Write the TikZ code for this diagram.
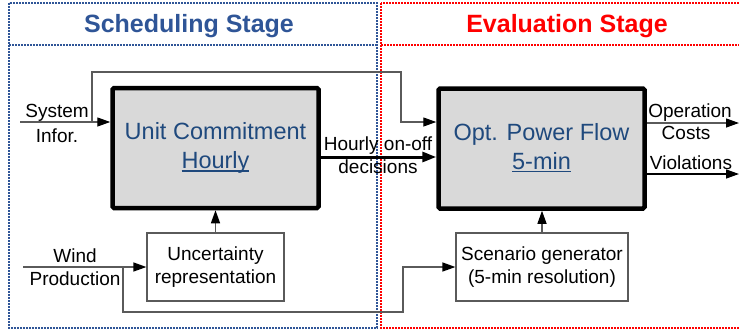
\documentclass[tikz,border=0pt]{standalone}
\usepackage{fontspec}
\setmainfont{Liberation Sans}
\usetikzlibrary{arrows.meta}

\definecolor{schedblue}{RGB}{47,85,151}
\definecolor{boxblue}{RGB}{31,73,125}
\definecolor{evalred}{RGB}{255,0,0}
\definecolor{boxfill}{RGB}{217,217,217}
\definecolor{linegray}{RGB}{90,90,90}

% underline sitting just below the baseline, independent of descenders
\newcommand\boxuline[1]{\setbox0\hbox{#1}\rlap{\rule[-3pt]{\wd0}{1.4pt}}\box0}

\tikzset{
  stagebox/.style={line width=1.5pt, dash pattern=on 1.6pt off 1.4pt},
  stagetitle/.style={font=\fontsize{25}{30}\selectfont\bfseries, anchor=base, inner sep=0pt},
  mainbox/.style={draw=black, line width=4.5pt, fill=boxfill, rounded corners=1.5pt,
    minimum width=206pt, minimum height=120pt, align=center, text=boxblue,
    font=\fontsize{23.5}{29}\selectfont},
  subbox/.style={draw=linegray, line width=1.2pt, fill=white, align=center,
    minimum height=68pt, inner sep=0pt, font=\fontsize{19}{22.5}\selectfont},
  lbl/.style={font=\fontsize{19}{23}\selectfont, anchor=base, inner sep=0pt},
  tip/.style={-{Triangle[length=13pt,width=9pt,color=black]}},
  conn/.style={draw=linegray, line width=1.3pt, tip},
  darkconn/.style={draw=black, line width=1.3pt, tip},
  thickconn/.style={draw=black, line width=3pt,
    -{Triangle[length=14pt,width=10pt,color=black]}}
}

\begin{document}
\begin{tikzpicture}[x=1pt,y=-1pt]
  \clip (0,0) rectangle (739,333);
  \fill[white] (0,0) rectangle (739,333);

  % stage frames
  \draw[stagebox, draw=schedblue] (9,3) rectangle (377,328);
  \draw[stagebox, draw=schedblue] (9,45) -- (377,45);
  \draw[stagebox, draw=evalred] (381,3) rectangle (745,328);
  \draw[stagebox, draw=evalred] (381,45) -- (745,45);
  \node[stagetitle, text=schedblue] (schedtitle) at (189,32) {Scheduling Stage};
  \node[stagetitle, text=evalred] (evaltitle) at (567,32) {Evaluation Stage};

  % main blocks
  \node[mainbox] (uc) at (215.5,148) {Unit Commitment\\\boxuline{Hourly}};
  \node[mainbox] (opf) at (541.5,148.5) {Opt. Power Flow\\\boxuline{5-min}\vphantom{y}};

  % auxiliary blocks
  \node[subbox, minimum width=137pt] (unc) at (215.5,267) {Uncertainty\\representation};
  \node[subbox, minimum width=172pt] (scen) at (542,267) {Scenario generator\\(5-min resolution)};

  % connector anchor points
  \coordinate (sysin) at (20,122);
  \coordinate (sysbr) at (92,122);
  \coordinate (systop) at (401,72);
  \coordinate (windin) at (23,267);
  \coordinate (windbr) at (123,267);
  \coordinate (windlow) at (403,312);
  \coordinate (hourly) at (0,157);
  \coordinate (costout) at (739,123);
  \coordinate (violout) at (739,174);

  % system information
  \draw[conn] (sysin) -- (sysin -| uc.west);
  \draw[conn] (sysbr) |- (systop) |- (opf.west |- sysin);
  \node[lbl] (syslbl) at (57,117) {System};
  \node[lbl] (inforlbl) at (57,142) {Infor.};

  % wind production
  \draw[conn] (windin) -- (unc.west);
  \draw[conn] (windbr) |- (windlow) |- (scen.west);
  \node[lbl] (windlbl) at (75,262) {Wind};
  \node[lbl] (prodlbl) at (75,285) {Production};

  % block to block
  \draw[conn] (unc.north) -- (uc.south);
  \draw[conn] (scen.north) -- (scen.north |- opf.south);
  \draw[thickconn] (uc.east |- hourly) -- (opf.west |- hourly);
  \node[lbl] (hourlylbl) at (378,150) {Hourly on-off};
  \node[lbl] (declbl) at (378,173) {decisions};

  % outputs
  \draw[conn] (opf.east |- costout) -- (costout);
  \draw[darkconn] (opf.east |- violout) -- (violout);
  \node[lbl] (oplbl) at (690,117) {Operation};
  \node[lbl] (costlbl) at (686,139) {Costs};
  \node[lbl] (violbl) at (691,169) {Violations};
\end{tikzpicture}
\end{document}
